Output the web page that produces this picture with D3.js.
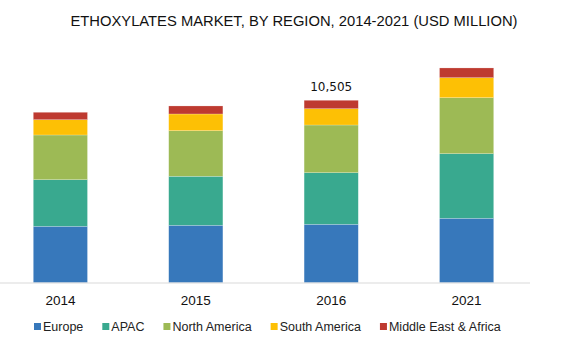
<!DOCTYPE html>
<html>
<head>
<meta charset="utf-8">
<script src="https://cdn.jsdelivr.net/npm/d3@7"></script>
<style>
  html, body { margin: 0; padding: 0; background: #fff; }
  svg { display: block; }
</style>
</head>
<body>
<svg id="chart" width="565" height="355"></svg>
<script>
const years = ["2014", "2015", "2016", "2021"];
const regions = ["Europe", "APAC", "North America", "South America", "Middle East & Africa"];
const europe = [3248, 3306, 3363, 3709];
const apac = [2684, 2822, 2972, 3721];
const northAmerica = [2575, 2627, 2747, 3226];
const southAmerica = [881, 962, 939, 1152];
const middleEastAfrica = [426, 461, 484, 559];
const labelYear = "2016";
const labelText = "10,505";
const colors = ["#3778bb", "#39a98f", "#9dba55", "#fdc005", "#be3a30"];
const title = "ETHOXYLATES MARKET, BY REGION, 2014-2021 (USD MILLION)";

const seriesValues = [europe, apac, northAmerica, southAmerica, middleEastAfrica];
const table = years.map((y, i) => {
  const row = { year: y };
  regions.forEach((r, k) => row[r] = seriesValues[k][i]);
  return row;
});
const stacked = d3.stack().keys(regions)(table);

const svg = d3.select("#chart");

const x = d3.scaleBand().domain(years).range([0, 527]).paddingInner(0.6).paddingOuter(0.246);
const y = d3.scaleLinear().domain([0, 14000]).range([282.7, 39.6]);
const color = d3.scaleOrdinal().domain(regions).range(colors);

// title
svg.append("text")
  .attr("x", 294).attr("y", 25.7)
  .attr("text-anchor", "middle")
  .attr("font-family", "'Liberation Sans', Arial, sans-serif")
  .attr("font-size", 15)
  .attr("textLength", 447)
  .attr("lengthAdjust", "spacingAndGlyphs")
  .attr("fill", "#111")
  .text(title);

// bars
svg.append("g").selectAll("g")
  .data(stacked).join("g")
  .attr("fill", d => color(d.key))
  .selectAll("rect")
  .data(d => d).join("rect")
  .attr("x", d => x(d.data.year))
  .attr("width", x.bandwidth())
  .attr("y", d => y(d[1]))
  .attr("height", d => y(d[0]) - y(d[1]))
  .attr("stroke", "#ffffff")
  .attr("stroke-opacity", 0.35)
  .attr("stroke-width", 0.6);

// axis line
svg.append("line")
  .attr("x1", 0).attr("x2", 530)
  .attr("y1", 283).attr("y2", 283)
  .attr("stroke", "#d9d9d9").attr("stroke-width", 1);

// x axis labels
const xAxis = svg.append("g")
  .attr("transform", "translate(0,283)")
  .call(d3.axisBottom(x).tickSize(0).tickPadding(0));
xAxis.select(".domain").remove();
xAxis.selectAll("text")
  .attr("y", 22).attr("dy", 0)
  .attr("font-family", "'Liberation Sans', Arial, sans-serif")
  .attr("font-size", 13.5)
  .attr("fill", "#111");

// data label
const totals = table.map(r => d3.sum(regions, k => r[k]));
const li = years.indexOf(labelYear);
svg.append("text")
  .attr("x", x(labelYear) + x.bandwidth() / 2)
  .attr("y", y(totals[li]) - 9.6)
  .attr("text-anchor", "middle")
  .attr("font-family", "'DejaVu Sans', Verdana, sans-serif")
  .attr("font-size", 12)
  .attr("fill", "#111")
  .text(labelText);

// legend
const legend = svg.append("g");
let lx = 34;
regions.forEach((r, i) => {
  const g = legend.append("g").attr("transform", `translate(${lx},0)`);
  g.append("rect").attr("x", 0).attr("y", 323).attr("width", 7).attr("height", 7).attr("fill", colors[i]);
  const t = g.append("text")
    .attr("x", 9).attr("y", 330.7)
    .attr("font-family", "'Liberation Sans', Arial, sans-serif")
    .attr("font-size", 12.5)
    .attr("fill", "#222")
    .text(r);
  lx += 9 + t.node().getComputedTextLength() + 19;
});
</script>
</body>
</html>
